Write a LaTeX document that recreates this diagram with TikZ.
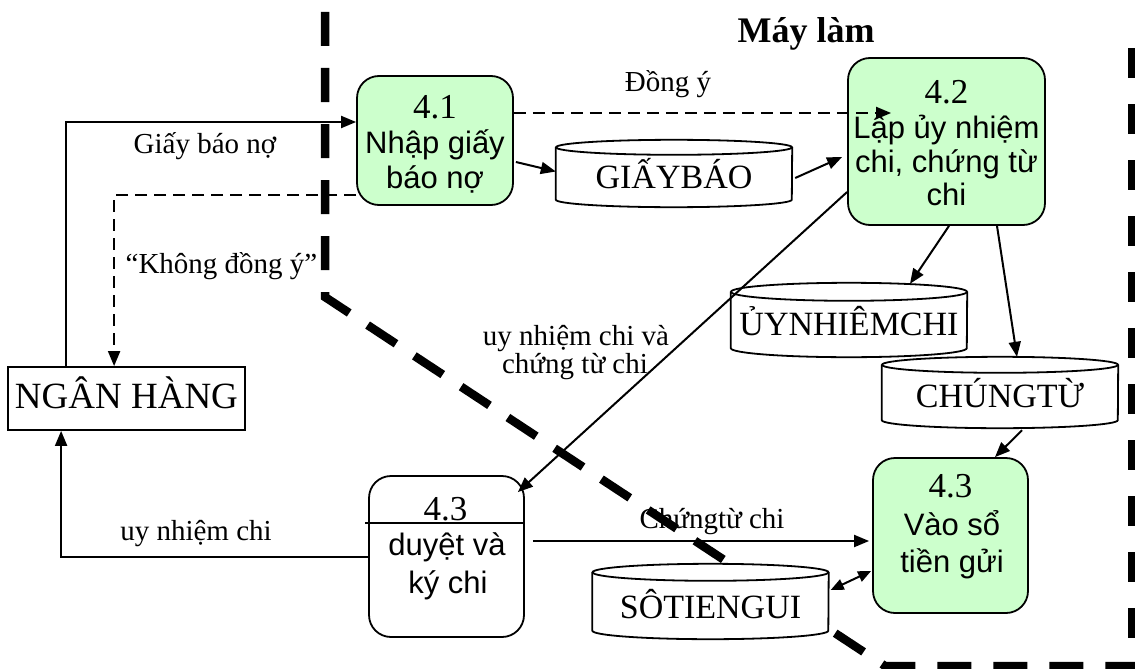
\documentclass[tikz,border=0pt]{standalone}
\usepackage{fontspec}
\setmainfont{Liberation Serif}
\newfontfamily\arialfont{Liberation Sans}
\usetikzlibrary{arrows.meta,calc}

\definecolor{procgreen}{HTML}{CCFFCC}

% outline of a data store: vertical sides, open bottom arc, full top ellipse
\newcommand\drumshape[2]{%
  \fill[white] ($(#1.north west)+(0,#2)$) -- ($(#1.south west)+(0,-#2)$)
    arc[start angle=180, end angle=360, x radius=118pt, y radius=#2pt]
    -- ($(#1.north east)+(0,#2)$) -- cycle;
  \draw[edge] ($(#1.north west)+(0,#2)$) -- ($(#1.south west)+(0,-#2)$)
    arc[start angle=180, end angle=360, x radius=118pt, y radius=#2pt]
    -- ($(#1.north east)+(0,#2)$);
  \draw[edge, fill=white] ($(#1.north)+(0,#2)$) ellipse[x radius=118pt, y radius=#2pt];
}

\tikzset{
  edge/.style={line width=1.8pt},
  proc/.style={draw, edge, rounded corners=22pt, fill=procgreen, inner sep=0pt},
  procw/.style={proc, fill=white},
  store/.style={inner sep=0pt, minimum width=236pt},
  numtxt/.style={anchor=base, inner sep=0pt, font=\fontsize{35}{40}\selectfont},
  proctxt/.style={anchor=base, inner sep=0pt, font=\arialfont\fontsize{31}{36}\selectfont},
  lbl/.style={anchor=base, inner sep=0pt, font=\fontsize{29}{33}\selectfont},
  storetxt/.style={anchor=base, inner sep=0pt, font=\fontsize{34}{38}\selectfont},
  banktxt/.style={anchor=base, inner sep=0pt, font=\fontsize{37}{42}\selectfont},
  titletxt/.style={anchor=base, inner sep=0pt, font=\bfseries\fontsize{36}{40}\selectfont},
  flow/.style={line width=2pt, -{Triangle[length=15pt,width=12pt]}},
  flowd/.style={flow, dash pattern=on 12pt off 7pt},
  flowb/.style={line width=2pt, {Triangle[length=13pt,width=11pt]}-{Triangle[length=13pt,width=11pt]}},
  boundary/.style={line width=8.5pt, dash pattern=on 34pt off 22pt},
}

\begin{document}
\begin{tikzpicture}[x=1pt,y=-1pt]
\useasboundingbox (0,0) rectangle (1135,669);

% system boundary
\draw[boundary] (325,12) -- (325,297) -- (885,666) -- (1140,666);
\draw[boundary, dash pattern=on 30pt off 26pt] (1132,48) -- (1132,666);

% data stores
\node[store, minimum height=67pt] (sgb) at (674,173.5) {};
\node[store, minimum height=74pt] (suy) at (849,320) {};
\node[store, minimum height=71pt] (sct) at (1000,392.5) {};
\node[store, minimum height=75pt] (sst) at (710.5,601.5) {};
\drumshape{sgb}{7.5}
\drumshape{suy}{9}
\drumshape{sct}{8}
\drumshape{sst}{8.5}

% processes and external entity
\node[proc, minimum width=156pt, minimum height=129pt] (p41) at (435,140.5) {};
\node[proc, minimum width=197pt, minimum height=167pt] (p42) at (946.5,141.5) {};
\node[procw, minimum width=155pt, minimum height=161pt] (p43a) at (446.5,556.5) {};
\node[proc, minimum width=155pt, minimum height=155pt] (p43b) at (950.5,535.5) {};
\draw[edge] ($(p43a.west)+(-3,-33.5)$) -- ($(p43a.east)+(0,-33.5)$);
\node[draw, edge, inner sep=0pt, minimum width=237pt, minimum height=63pt] (bank) at (126.5,398.5) {};

% data flows
\draw[flow] ($(bank.north west)+(59,0)$) |- ($(p41.west)+(0,-18.5)$);
\draw[flowd] ($(p41.west)+(0,54.5)$) -| ($(bank.north west)+(107,0)$);
\draw[flowd] ($(p41.east)+(0,-27.5)$) -- ($(p42.west)+(44,-28.5)$);
\draw[flow] ($(p41.east)+(2,21.5)$) -- ($(sgb.west)+(0,-2)$);
\draw[flow] ($(sgb.east)+(3,4.5)$) -- ($(p42.west)+(-5,15.5)$);
\draw[flow] ($(p42.west)+(0,50.5)$) -- ($(p43a.north east)+(-7,17)$);
\draw[flow] ($(p42.south)+(2.5,0)$) -- ($(suy.north)+(61,1)$);
\draw[flow] ($(p42.south)+(50.5,0)$) -- ($(sct.north)+(17,0)$);
\draw[flow] ($(sct.south)+(22,2)$) -- ($(p43b.north)+(44.5,0)$);
\draw[flow] ($(p43a.east)+(8,-15.5)$) -- ($(p43b.west)+(-3,5.5)$);
\draw[flowb] ($(sst.east)+(2,-11.5)$) -- ($(p43b.west)+(-1,35.5)$);
\draw[flow] (p43a.west) -| ($(bank.south west)+(54,0)$);

% texts
\node[titletxt] (title) at (806,43) {Máy làm};
\node[banktxt] (bankt) at (126.5,408) {NGÂN HÀNG};

\node[numtxt] (t41a) at (435,118) {4.1};
\node[proctxt] (t41b) at (435,153) {Nhập giấy};
\node[proctxt] (t41c) at (435,188) {báo nợ};

\node[numtxt] (t42a) at (946.5,103) {4.2};
\node[proctxt] (t42b) at (946.5,138) {Lập ủy nhiệm};
\node[proctxt] (t42c) at (946.5,172) {chi, chứng từ};
\node[proctxt] (t42d) at (946.5,205) {chi};

\node[numtxt] (t43a) at (445.5,520) {4.3};
\node[proctxt] (t43b) at (447,555) {duyệt và};
\node[proctxt] (t43c) at (448,593) {ký chi};

\node[numtxt] (t43d) at (950.5,497) {4.3};
\node[proctxt] (t43e) at (952,535) {Vào sổ};
\node[proctxt] (t43f) at (952,572) {tiền gửi};

\node[storetxt] (sgbt) at (674,188) {GIẤYBÁO};
\node[storetxt] (suyt) at (849,335) {ỦYNHIÊMCHI};
\node[storetxt] (sctt) at (1000,407) {CHÚNGTỪ};
\node[storetxt] (sstt) at (710.5,618) {SÔTIENGUI};

\node[lbl] (lgbn) at (205,153) {Giấy báo nợ};
\node[lbl] (lkdy) at (221.5,273) {“Không đồng ý”};
\node[lbl] (ldy) at (668,92) {Đồng ý};
\node[lbl] (lunc1) at (576,345) {uy nhiệm chi và};
\node[lbl] (lunc2) at (575,373) {chứng từ chi};
\node[lbl] (lunc) at (196,540) {uy nhiệm chi};
\node[lbl] (lctc) at (712,528) {Chứngtừ chi};
\end{tikzpicture}
\end{document}
